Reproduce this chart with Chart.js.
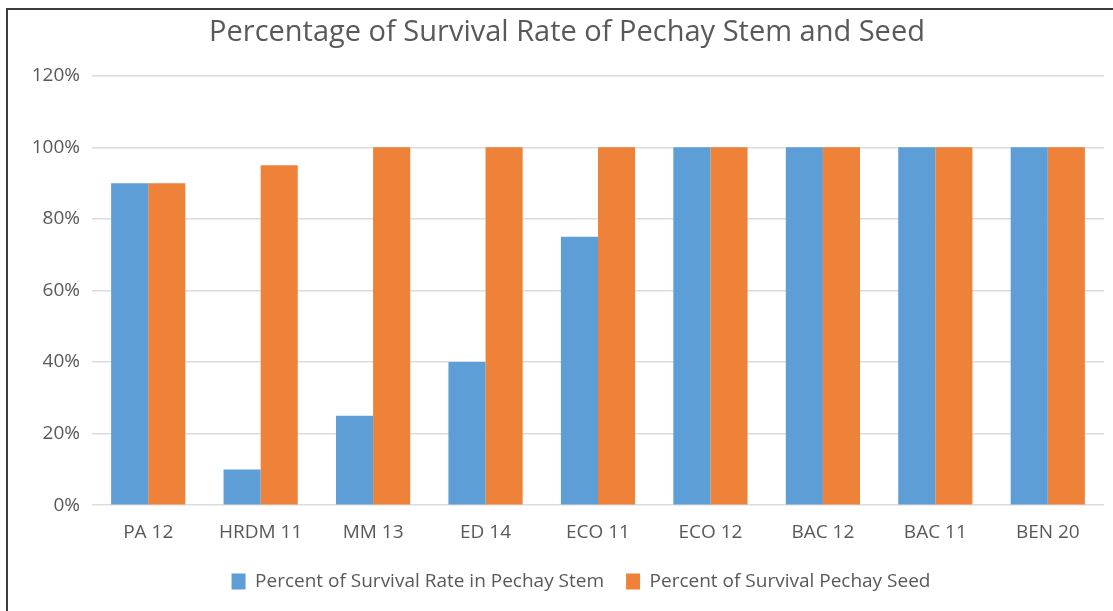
<!DOCTYPE html>
<html>
<head>
<meta charset="utf-8">
<script src="https://cdn.jsdelivr.net/npm/chart.js@4.4.0/dist/chart.umd.min.js"></script>
<style>
    body { margin: 0; background: #fff; overflow: hidden; }
    #wrap { position: relative; width: 1113px; height: 611px; }
    #frame {
        position: absolute; left: 6px; top: 8px; right: 0; bottom: 0;
        border-left: 2px solid #3c3c3c; border-top: 2px solid #3c3c3c;
        pointer-events: none;
    }
</style>
</head>
<body>
<div id="wrap">
    <canvas id="myChart" width="1113" height="611"></canvas>
    <div id="frame"></div>
</div>
<script>
// Chart values
const labels = ['PA 12', 'HRDM 11', 'MM 13', 'ED 14', 'ECO 11', 'ECO 12', 'BAC 12', 'BAC 11', 'BEN 20'];
const stemValues = [90, 10, 25, 40, 75, 100, 100, 100, 100];
const seedValues = [90, 95, 100, 100, 100, 100, 100, 100, 100];
const seriesNames = ['Percent of Survival Rate in Pechay Stem', 'Percent of Survival Pechay Seed'];
const titleText = 'Percentage of Survival Rate of Pechay Stem and Seed';

const textColor = '#595959';
const fontFamily = "'Open Sans', 'Noto Sans', sans-serif";

// nudge the legend a bit so it sits where the original one is
const legendNudge = {
    id: 'legendNudge',
    afterLayout(chart) {
        const lg = chart.legend;
        lg.left += 14; lg.right += 14;
        lg.top -= 10; lg.bottom -= 10;
    }
};

const ctx = document.getElementById('myChart');
let myChart = new Chart(ctx, {
    type: 'bar',
    data: {
        labels: labels,
        datasets: [{
            label: seriesNames[0],
            data: stemValues,
            backgroundColor: '#5e9ed7',
            categoryPercentage: 0.66,
            barPercentage: 1.0
        }, {
            label: seriesNames[1],
            data: seedValues,
            backgroundColor: '#ee8239',
            categoryPercentage: 0.66,
            barPercentage: 1.0
        }]
    },
    options: {
        responsive: false,
        animation: false,
        layout: {
            padding: { top: 5, right: 9, left: 30, bottom: 0 }
        },
        plugins: {
            title: {
                display: true,
                text: titleText,
                color: textColor,
                font: { family: fontFamily, size: 29, weight: 'normal' },
                padding: { top: 10, bottom: 26 }
            },
            legend: {
                position: 'bottom',
                labels: {
                    color: textColor,
                    font: { family: fontFamily, size: 19 },
                    boxWidth: 14,
                    boxHeight: 16,
                    padding: 22
                }
            },
            tooltip: { enabled: false }
        },
        scales: {
            y: {
                min: 0,
                max: 120,
                ticks: {
                    stepSize: 20,
                    color: textColor,
                    font: { family: fontFamily, size: 19 },
                    padding: 12,
                    callback: v => v + '%'
                },
                grid: { color: '#dcdcdc', lineWidth: 1.5, drawTicks: false },
                border: { display: false },
                afterFit: scale => { scale.width = 62; }
            },
            x: {
                ticks: {
                    color: textColor,
                    font: { family: fontFamily, size: 19 },
                    padding: 16
                },
                grid: { display: false, drawTicks: false },
                border: { display: false }
            }
        }
    },
    plugins: [legendNudge]
});
</script>
</body>
</html>
